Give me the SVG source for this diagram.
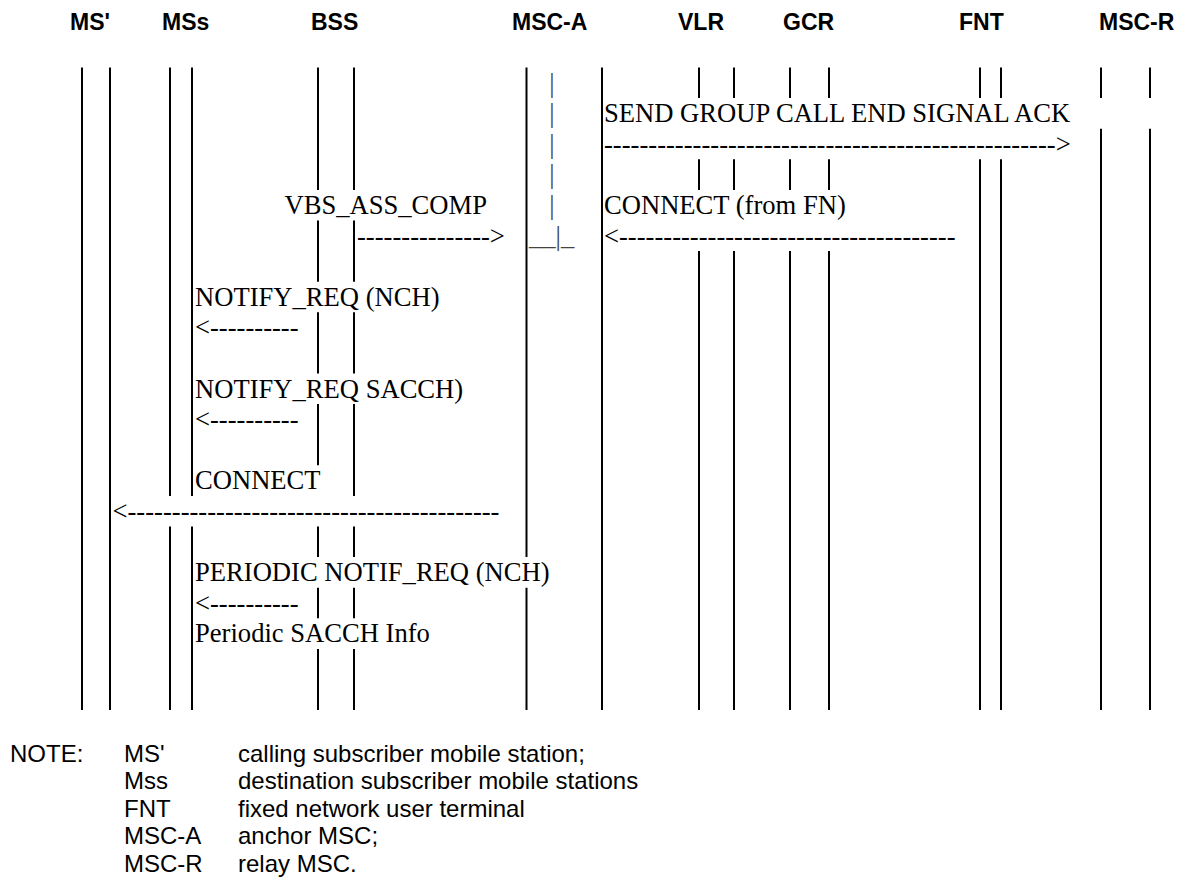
<svg xmlns="http://www.w3.org/2000/svg" width="1177" height="877" viewBox="0 0 1177 877">
<style>
.hd{font-family:"Liberation Sans",Arial,sans-serif;font-weight:bold;font-size:23px;fill:#000}
.ll{stroke:#000;stroke-width:2;fill:none}
.msg{font-family:"Liberation Serif","Times New Roman",serif;font-size:26.6px;fill:#000}
.bar{font-family:"Liberation Serif","Times New Roman",serif;font-size:26.6px;fill:#444}
.note{font-family:"Liberation Sans",Arial,sans-serif;font-size:24px;fill:#000}
</style>
<rect width="1177" height="877" fill="#fff"/>

<g id="node-ms-prime">
<text class="hd" x="70" y="30">MS'</text>
<path class="ll" d="M82 67.5V710.1M110 67.5V710.1"/>
</g>
<g id="node-mss">
<text class="hd" x="162" y="30">MSs</text>
<path class="ll" d="M170 67.5V495.9M170 526.5V710.1M192 67.5V495.9M192 526.5V710.1"/>
</g>
<g id="node-bss">
<text class="hd" x="311" y="30">BSS</text>
<path class="ll" d="M318 67.5V189.9M318 220.5V281.7M318 312.3V373.5M318 404.1V465.3M318 526.5V557.1M318 587.7V618.3M318 648.9V710.1"/>
<path class="ll" d="M354 67.5V189.9M354 220.5V281.7M354 312.3V373.5M354 404.1V495.9M354 526.5V557.1M354 587.7V618.3M354 648.9V710.1"/>
</g>
<g id="node-msc-a">
<text class="hd" x="512" y="30">MSC-A</text>
<path class="ll" d="M526.5 67.5V557.1M526.5 587.7V710.1M602 67.5V710.1"/>
<text class="bar" x="552" y="91.5" text-anchor="middle">|</text>
<text class="bar" x="552" y="122.1" text-anchor="middle">|</text>
<text class="bar" x="552" y="152.7" text-anchor="middle">|</text>
<text class="bar" x="552" y="183.3" text-anchor="middle">|</text>
<text class="bar" x="552" y="213.9" text-anchor="middle">|</text>
<text class="bar" x="529" y="244.5">__|_</text>
</g>
<g id="node-vlr">
<text class="hd" x="678" y="30">VLR</text>
<path class="ll" d="M699 67.5V98.1M699 159.3V189.9M699 251.1V710.1M734 67.5V98.1M734 159.3V189.9M734 251.1V710.1"/>
</g>
<g id="node-gcr">
<text class="hd" x="783" y="30">GCR</text>
<path class="ll" d="M790 67.5V98.1M790 159.3V189.9M790 251.1V710.1M829 67.5V98.1M829 159.3V189.9M829 251.1V710.1"/>
</g>
<g id="node-fnt">
<text class="hd" x="959" y="30">FNT</text>
<path class="ll" d="M980 67.5V98.1M980 159.3V710.1M1001 67.5V98.1M1001 159.3V710.1"/>
</g>
<g id="node-msc-r">
<text class="hd" x="1099" y="30">MSC-R</text>
<path class="ll" d="M1101 67.5V98.1M1101 128.7V710.1M1150 67.5V98.1M1150 128.7V710.1"/>
</g>

<g id="connectors">
<text class="msg" x="604" y="122.1">SEND GROUP CALL END SIGNAL ACK</text>
<text class="msg" x="604" y="152.7">---------------------------------------------------&gt;</text>
<text class="msg" x="284.5" y="213.9">VBS_ASS_COMP</text>
<text class="msg" x="357" y="244.5">---------------&gt;</text>
<text class="msg" x="604" y="213.9">CONNECT (from FN)</text>
<text class="msg" x="604" y="244.5">&lt;--------------------------------------</text>
<text class="msg" x="195" y="305.7">NOTIFY_REQ (NCH)</text>
<text class="msg" x="195" y="336.3">&lt;----------</text>
<text class="msg" x="195" y="397.5">NOTIFY_REQ SACCH)</text>
<text class="msg" x="195" y="428.1">&lt;----------</text>
<text class="msg" x="195" y="489.3">CONNECT</text>
<text class="msg" x="112.5" y="519.9">&lt;------------------------------------------</text>
<text class="msg" x="195" y="581.1">PERIODIC NOTIF_REQ (NCH)</text>
<text class="msg" x="195" y="611.7">&lt;----------</text>
<text class="msg" x="195" y="642.3">Periodic SACCH Info</text>
</g>

<g id="note">
<text class="note" x="10" y="762">NOTE:</text>
<text class="note" x="124" y="762">MS'</text>
<text class="note" x="238" y="762">calling subscriber mobile station;</text>
<text class="note" x="124" y="789">Mss</text>
<text class="note" x="238" y="789">destination subscriber mobile stations</text>
<text class="note" x="124" y="816.5">FNT</text>
<text class="note" x="238" y="816.5">fixed network user terminal</text>
<text class="note" x="124" y="844">MSC-A</text>
<text class="note" x="238" y="844">anchor MSC;</text>
<text class="note" x="124" y="871.5">MSC-R</text>
<text class="note" x="238" y="871.5">relay MSC.</text>
</g>
</svg>
